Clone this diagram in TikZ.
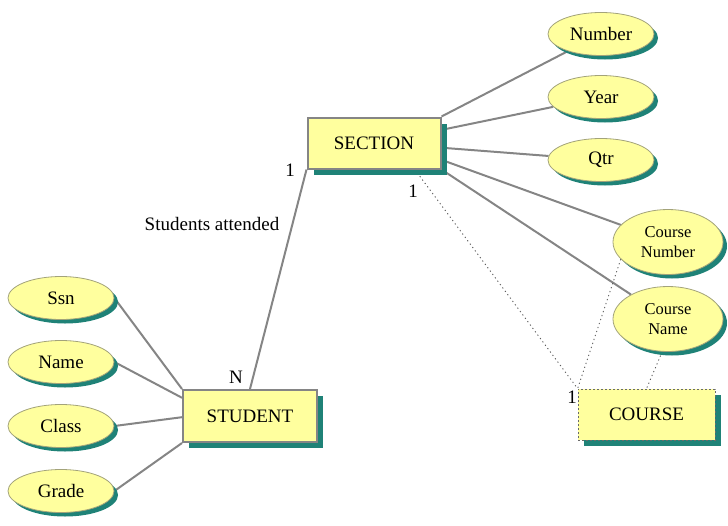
\documentclass[tikz,border=0pt]{standalone}
\usepackage{fontspec}
\setmainfont{Liberation Serif}
\usetikzlibrary{shapes.geometric,shadows,backgrounds}
\definecolor{erfill}{HTML}{FFFF9E}
\definecolor{ershadow}{HTML}{1F8277}
\definecolor{erline}{HTML}{858585}
\definecolor{eredge}{HTML}{A3A37A}
\begin{document}
\begin{tikzpicture}[x=1pt,y=-1pt,
  font=\fontsize{19}{22}\selectfont,
  entity/.style={rectangle, draw=erline, line width=2pt, fill=erfill,
    inner sep=0pt, minimum width=133pt, minimum height=51pt,
    drop shadow={shadow xshift=6pt, shadow yshift=-6pt, opacity=1, fill=ershadow}},
  weakentity/.style={entity, draw=erline!80!black, line width=0.8pt, dash pattern=on 2pt off 2pt},
  attr/.style={ellipse, draw=eredge, line width=0.8pt, fill=erfill,
    inner sep=0pt, minimum width=106pt, minimum height=43pt,
    drop shadow={shadow xshift=4pt, shadow yshift=-4pt, opacity=1, fill=ershadow}},
  bigattr/.style={attr, minimum width=110pt, minimum height=65pt,
    font=\fontsize{16.5}{20}\selectfont, align=center},
  link/.style={draw=erline, line width=2pt},
  dotlink/.style={draw=erline!70!black, line width=0.9pt, dash pattern=on 1.2pt off 3pt},
  card/.style={inner sep=0pt}
]
\useasboundingbox (0,0) rectangle (728,525);

% entities
\node[entity] (section) at (374,143) {SECTION};
\node[entity, minimum width=134pt, minimum height=52pt] (student) at (250,416) {STUDENT};
\node[weakentity, minimum width=137pt] (course) at (646.5,414.5) {COURSE};

% attributes of SECTION
\node[attr] (number) at (601,34) {Number};
\node[attr] (year) at (601,97) {Year};
\node[attr] (qtr) at (601,160) {Qtr};
\node[bigattr] (cnum) at (668,242) {Course\\Number};
\node[bigattr] (cname) at (668,319) {Course\\Name};

% attributes of STUDENT
\node[attr] (ssn) at (61,298) {Ssn};
\node[attr] (name) at (61,362) {Name};
\node[attr] (class) at (61,426) {Class};
\node[attr] (grade) at (61,491) {Grade};

% cardinalities and relationship label
\node[card] (c1) at (290,170) {1};
\node[card] (cn) at (236,377) {N};
\node[card] (rel) at (212,224) {Students attended};
\node[card] (c2) at (413,191) {1};
\node[card] (c3) at (572,397) {1};

\begin{pgfonlayer}{background}
  \draw[link] (section.north east) -- (number);
  \draw[link] (section.11) -- (year);
  \draw[link] (section.-4) -- (qtr);
  \draw[link] (section.-14) -- (cnum);
  \draw[link] (section.south east) -- (cname);

  \draw[link] (ssn.east) -- (student.north west);
  \draw[link] (name.east) -- (student.165);
  \draw[link] (class.east) -- (student.181);
  \draw[link] (grade.east) -- (student.south west);

  \draw[link] (section.south west) -- (student.north);

  \draw[dotlink] (section.-33) -- (course.north west);
  \draw[dotlink] (cnum.200) -- (course.north west);
  \draw[dotlink] (cname.260) -- (course.north);
\end{pgfonlayer}
\end{tikzpicture}
\end{document}
